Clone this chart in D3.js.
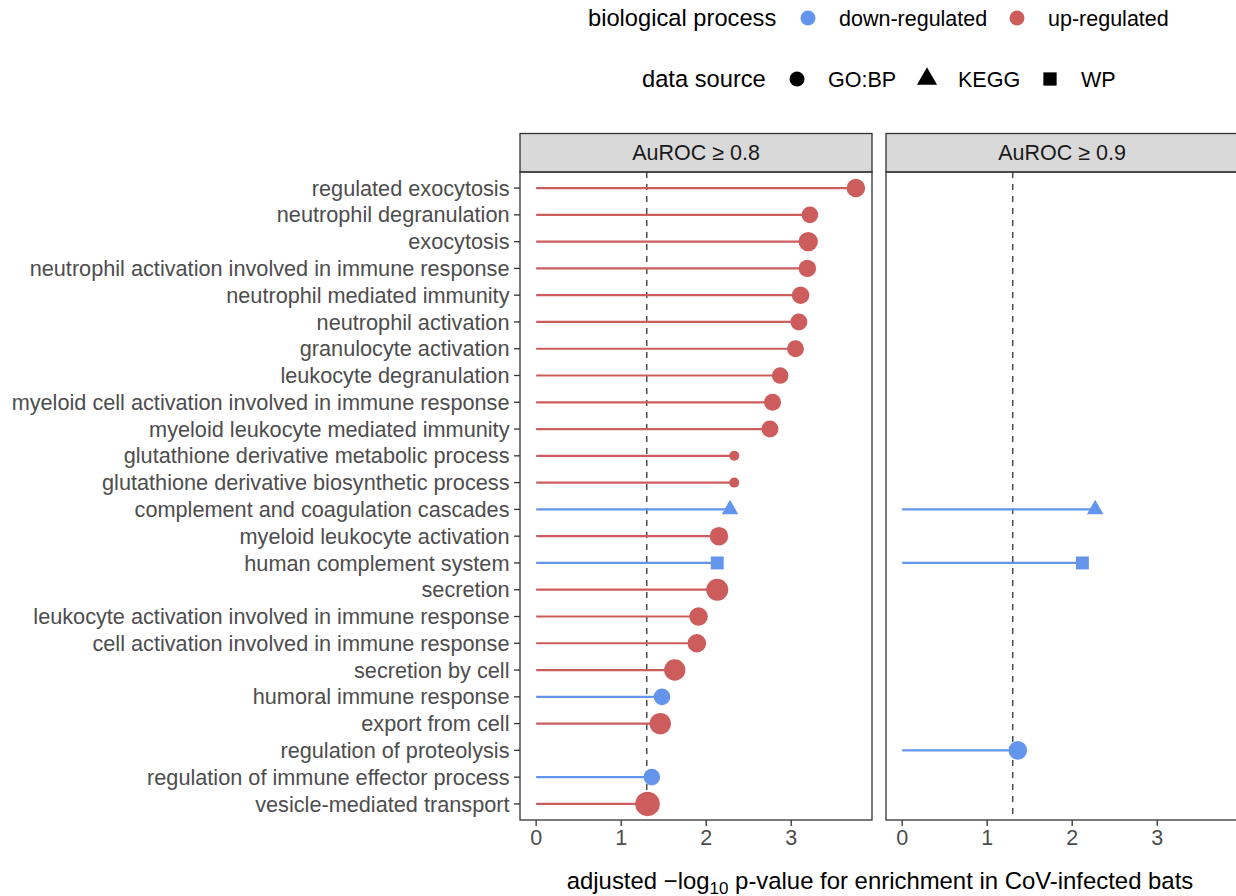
<!DOCTYPE html>
<html>
<head>
<meta charset="utf-8">
<script src="https://cdn.jsdelivr.net/npm/d3@7"></script>
<style>
  body { margin: 0; background: #fff; }
  svg { display: block; font-family: "Liberation Sans", Arial, sans-serif; }
</style>
</head>
<body>
<svg id="chart" width="1236" height="896"></svg>
<script>
// terms, top to bottom
const terms = [
  'regulated exocytosis',
  'neutrophil degranulation',
  'exocytosis',
  'neutrophil activation involved in immune response',
  'neutrophil mediated immunity',
  'neutrophil activation',
  'granulocyte activation',
  'leukocyte degranulation',
  'myeloid cell activation involved in immune response',
  'myeloid leukocyte mediated immunity',
  'glutathione derivative metabolic process',
  'glutathione derivative biosynthetic process',
  'complement and coagulation cascades',
  'myeloid leukocyte activation',
  'human complement system',
  'secretion',
  'leukocyte activation involved in immune response',
  'cell activation involved in immune response',
  'secretion by cell',
  'humoral immune response',
  'export from cell',
  'regulation of proteolysis',
  'regulation of immune effector process',
  'vesicle-mediated transport'
]
const direction = ['up', 'up', 'up', 'up', 'up', 'up', 'up', 'up', 'up', 'up', 'up', 'up',
  'down', 'up', 'down', 'up', 'up', 'up', 'up', 'down', 'up', 'down', 'down', 'up']
const source = ['GO:BP', 'GO:BP', 'GO:BP', 'GO:BP', 'GO:BP', 'GO:BP', 'GO:BP', 'GO:BP', 'GO:BP', 'GO:BP', 'GO:BP', 'GO:BP',
  'KEGG', 'GO:BP', 'WP', 'GO:BP', 'GO:BP', 'GO:BP', 'GO:BP', 'GO:BP', 'GO:BP', 'GO:BP', 'GO:BP', 'GO:BP']

// adjusted -log10 p per panel (null = not enriched)
const score08 = [3.76, 3.22, 3.2, 3.19, 3.11, 3.09, 3.05, 2.87, 2.78, 2.75, 2.33, 2.33,
  2.28, 2.15, 2.13, 2.13, 1.91, 1.89, 1.63, 1.48, 1.46, null, 1.36, 1.31]
const score09 = [null, null, null, null, null, null, null, null, null, null, null, null,
  2.27, null, 2.12, null, null, null, null, null, null, 1.36, null, null]
// overlap gene counts (point size)
const count08 = [86, 69, 94, 76, 76, 72, 72, 69, 72, 72, 25, 25,
  38, 86, 53, 121, 86, 86, 114, 69, 114, null, 69, 151]
const count09 = [null, null, null, null, null, null, null, null, null, null, null, null,
  38, null, 53, null, null, null, null, null, null, 86, null, null]

const panels = [
  { label: 'AuROC \u2265 0.8', score: score08, count: count08 },
  { label: 'AuROC \u2265 0.9', score: score09, count: count09 }
]
const xTicks = [0, 1, 2, 3]
const cutoff = -Math.log10(0.05)

const colour = { down: '#6495ED', up: '#CD5C5C' }
const shapes = { 'GO:BP': d3.symbolCircle, KEGG: d3.symbolTriangle, WP: d3.symbolSquare }

const svg = d3.select('#chart')

// layout
const plotTop = 172
const plotBottom = 820
const stripTop = 133.5
const panelW = 352
const panelX = [520, 886]

const y = d3.scalePoint().domain(terms).range([plotTop, plotBottom]).padding(0.6)
const r = d3.scaleSqrt().domain([0, 100]).range([0, 10])
const sym = (shape, cnt) => d3.symbol().type(shape).size(Math.PI * Math.pow(r(cnt), 2))()

// y axis labels (left panel only)
const yAxis = svg.append('g')
yAxis.selectAll('line').data(terms).join('line')
  .attr('x1', panelX[0] - 6).attr('x2', panelX[0])
  .attr('y1', d => y(d)).attr('y2', d => y(d))
  .attr('stroke', '#333').attr('stroke-width', 1.3)
yAxis.selectAll('text').data(terms).join('text')
  .attr('x', panelX[0] - 10.5).attr('y', d => y(d))
  .attr('dy', '0.35em')
  .attr('text-anchor', 'end')
  .attr('font-size', 21.7)
  .attr('fill', '#4D4D4D')
  .text(d => d)

panels.forEach((p, i) => {
  const x = d3.scaleLinear().domain([-0.19, 3.95]).range([panelX[i], panelX[i] + panelW])
  const g = svg.append('g')
  const rows = terms.map((t, j) => ({ term: t, dir: direction[j], src: source[j], v: p.score[j], n: p.count[j] }))
    .filter(d => d.v != null)

  // strip
  g.append('rect')
    .attr('x', panelX[i]).attr('y', stripTop)
    .attr('width', panelW).attr('height', plotTop - stripTop)
    .attr('fill', '#D9D9D9').attr('stroke', '#333').attr('stroke-width', 1.3)
  g.append('text')
    .attr('x', panelX[i] + panelW / 2).attr('y', (stripTop + plotTop) / 2)
    .attr('dy', '0.35em').attr('text-anchor', 'middle')
    .attr('font-size', 21.5).attr('fill', '#1A1A1A')
    .text(p.label)

  // significance cutoff
  g.append('line')
    .attr('x1', x(cutoff)).attr('x2', x(cutoff))
    .attr('y1', plotTop).attr('y2', plotBottom)
    .attr('stroke', '#333').attr('stroke-width', 1.3)
    .attr('stroke-dasharray', '6,6')

  // lollipops
  g.selectAll('.stem').data(rows).join('line')
    .attr('class', 'stem')
    .attr('x1', x(0)).attr('x2', d => x(d.v))
    .attr('y1', d => y(d.term)).attr('y2', d => y(d.term))
    .attr('stroke', d => colour[d.dir]).attr('stroke-width', 2.2)
  g.selectAll('.pt').data(rows).join('path')
    .attr('class', 'pt')
    .attr('transform', d => `translate(${x(d.v)},${y(d.term)})`)
    .attr('d', d => sym(shapes[d.src], d.n))
    .attr('fill', d => colour[d.dir])

  // panel border
  g.append('rect')
    .attr('x', panelX[i]).attr('y', plotTop)
    .attr('width', panelW).attr('height', plotBottom - plotTop)
    .attr('fill', 'none').attr('stroke', '#333').attr('stroke-width', 1.3)

  // x axis
  const xa = g.append('g')
  xa.selectAll('line').data(xTicks).join('line')
    .attr('x1', d => x(d)).attr('x2', d => x(d))
    .attr('y1', plotBottom).attr('y2', plotBottom + 6)
    .attr('stroke', '#333').attr('stroke-width', 1.3)
  xa.selectAll('text').data(xTicks).join('text')
    .attr('x', d => x(d)).attr('y', plotBottom + 17)
    .attr('dy', '0.35em').attr('text-anchor', 'middle')
    .attr('font-size', 21.5).attr('fill', '#4D4D4D')
    .text(d => d)
})

// x axis title
const xt = svg.append('text')
  .attr('x', (panelX[0] + panelX[1] + panelW) / 2 + 1).attr('y', 889)
  .attr('text-anchor', 'middle')
  .attr('font-size', 23.9).attr('fill', '#000')
xt.append('tspan').text('adjusted \u2212log')
xt.append('tspan').attr('font-size', 17).attr('dy', 4.5).text('10')
xt.append('tspan').attr('dy', -4.5).text(' p-value for enrichment in CoV-infected bats')

// legends
const leg = svg.append('g')
leg.append('text').attr('x', 588).attr('y', 18).attr('dy', '0.35em')
  .attr('font-size', 23.7).text('biological process')
const dirKeys = [{ k: 'down', label: 'down-regulated', cx: 808 }, { k: 'up', label: 'up-regulated', cx: 1017 }]
dirKeys.forEach(d => {
  leg.append('path').attr('transform', `translate(${d.cx},18)`)
    .attr('d', sym(d3.symbolCircle, 56)).attr('fill', colour[d.k])
  leg.append('text').attr('x', d.cx + 31).attr('y', 18).attr('dy', '0.35em')
    .attr('font-size', 21.5).text(d.label)
})
leg.append('text').attr('x', 642).attr('y', 79).attr('dy', '0.35em')
  .attr('font-size', 23.7).text('data source')
const srcKeys = [{ k: 'GO:BP', cx: 797 }, { k: 'KEGG', cx: 927 }, { k: 'WP', cx: 1050 }]
srcKeys.forEach(d => {
  leg.append('path').attr('transform', `translate(${d.cx},79)`)
    .attr('d', sym(shapes[d.k], 56)).attr('fill', '#000')
  leg.append('text').attr('x', d.cx + 31).attr('y', 79).attr('dy', '0.35em')
    .attr('font-size', 21.5).text(d.k)
})
</script>
</body>
</html>
